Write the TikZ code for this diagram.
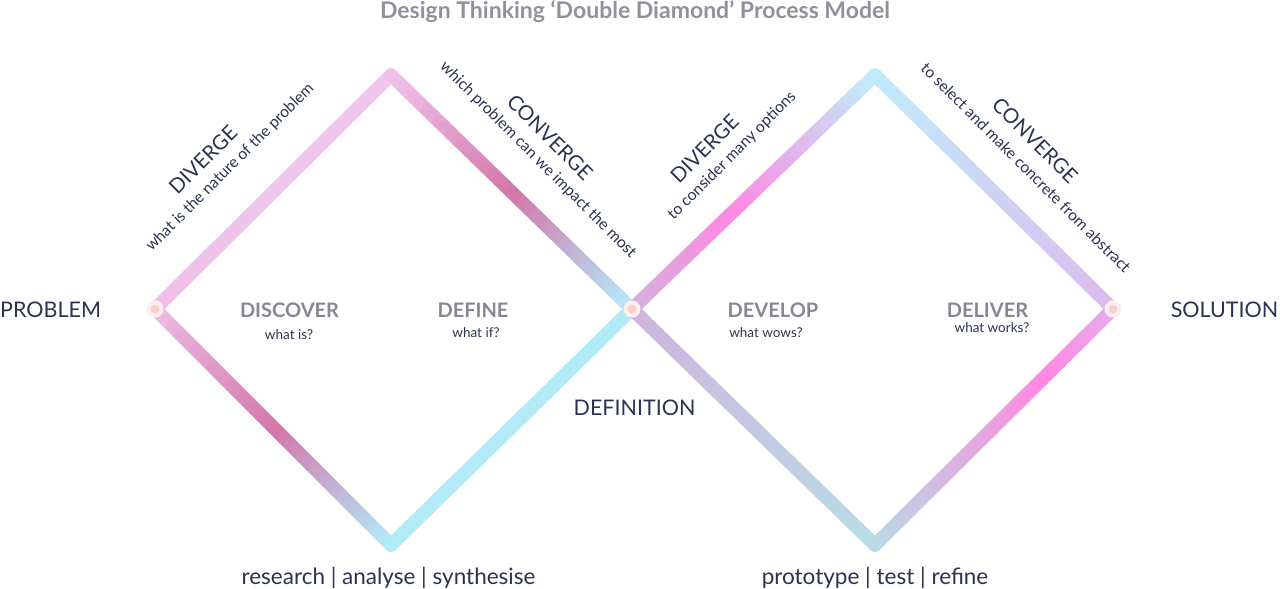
\documentclass[tikz,border=0pt]{standalone}
\usepackage{fontspec}
\setmainfont{Lato}
\usetikzlibrary{calc}

\definecolor{navy}{HTML}{2B3350}
\definecolor{labelgray}{HTML}{85888E}
\definecolor{titlegray}{HTML}{8F9299}
\definecolor{pinkpale}{HTML}{F0C6EC}
\definecolor{pinklite}{HTML}{EEBEE6}
\definecolor{mauve}{HTML}{D476AA}
\definecolor{skyblue}{HTML}{B2EAF8}
\definecolor{lilac}{HTML}{D0B4DE}
\definecolor{hotpink}{HTML}{FF88E0}
\definecolor{icyblue}{HTML}{C0ECFC}
\definecolor{lavender}{HTML}{DCBCEE}
\definecolor{steelblue}{HTML}{B8DCE4}
\definecolor{orchid}{HTML}{E6ACEA}
\definecolor{halo}{HTML}{FEEEEE}
\definecolor{dotcore}{HTML}{FAD0CC}
\colorlet{icylav}{icyblue!50!lavender}
\colorlet{lilsteel}{lilac!50!steelblue}

\tikzset{
  edge/.style={line width=13.5pt, line cap=round},
  hub/.style={circle, fill=dotcore, draw=halo, line width=4pt, minimum size=13pt, inner sep=0pt},
  heading/.style={font=\bfseries\fontsize{23}{25}\selectfont, text=titlegray, inner sep=0pt},
  endlabel/.style={font=\fontsize{21.5}{24}\selectfont, text=navy, inner sep=0pt},
  phase/.style={font=\bfseries\fontsize{20}{22}\selectfont, text=labelgray, inner sep=0pt},
  phasenote/.style={font=\fontsize{13.5}{15}\selectfont, text=navy, inner sep=0pt},
  mode/.style={font=\fontsize{20.5}{22}\selectfont, text=navy, inner sep=0pt},
  modenote/.style={font=\fontsize{15.7}{17}\selectfont, text=navy, inner sep=0pt},
  activity/.style={font=\fontsize{22.5}{24}\selectfont, text=navy, inner sep=0pt}
}

% edge from #1 to #2, colour #3 -> #4 (at position #5) -> #6
\newcommand{\gradedge}[6]{%
  \foreach \i in {0,...,39}{
    \pgfmathsetmacro{\ta}{\i/40}
    \pgfmathsetmacro{\tb}{(\i+1)/40}
    \pgfmathsetmacro{\tm}{(\i+0.5)/40}
    \ifdim\tm pt<#5pt
      \pgfmathsetmacro{\mixp}{100*(1-\tm/#5)}
      \colorlet{segcol}{#3!\mixp!#4}
    \else
      \pgfmathsetmacro{\mixp}{100*(1-(\tm-#5)/(1-#5))}
      \colorlet{segcol}{#4!\mixp!#6}
    \fi
    \draw[edge, segcol] ($(#1)!\ta!(#2)$) -- ($(#1)!\tb!(#2)$);
  }
}

\begin{document}
\begin{tikzpicture}[x=1pt, y=-1pt]
    \useasboundingbox (0,0) rectangle (1280,589);

    % Diamond corners
    \coordinate (start) at (155,309);
    \coordinate (top1) at (391,75);
    \coordinate (bot1) at (391,545);
    \coordinate (middle) at (632,309);
    \coordinate (top2) at (875,75);
    \coordinate (bot2) at (875,545);
    \coordinate (finish) at (1113,309);

    % First diamond
    \gradedge{start}{top1}{pinklite}{pinkpale}{0.5}{pinkpale}
    \gradedge{top1}{middle}{pinkpale}{mauve}{0.52}{skyblue}
    \gradedge{start}{bot1}{pinklite}{mauve}{0.53}{skyblue}
    \gradedge{bot1}{middle}{skyblue}{skyblue}{0.5}{skyblue}

    % Second diamond
    \gradedge{middle}{top2}{lilac}{hotpink}{0.43}{icyblue}
    \gradedge{top2}{finish}{icyblue}{icylav}{0.5}{lavender}
    \gradedge{middle}{bot2}{lilac}{lilsteel}{0.5}{steelblue}
    \gradedge{bot2}{finish}{steelblue}{hotpink}{0.72}{orchid}

    % Hubs
    \node[hub] (hub1) at (start) {};
    \node[hub] (hub2) at (middle) {};
    \node[hub] (hub3) at (finish) {};

    % Title
    \node[heading, anchor=base] (title) at (635,18) {Design Thinking ‘Double Diamond’ Process Model};

    % End labels
    \node[endlabel] (problem) at (50.5,310) {PROBLEM};
    \node[endlabel] (definition) at (634.5,408) {DEFINITION};
    \node[endlabel] (solution) at (1224.5,310) {SOLUTION};

    % Phases
    \node[phase] (discover) at (289.5,310) {DISCOVER};
    \node[phasenote] at (289,335) {what is?};
    \node[phase] (define) at (473,310) {DEFINE};
    \node[phasenote] at (476,333) {what if?};
    \node[phase] (develop) at (773,310) {DEVELOP};
    \node[phasenote] at (766,333) {what wows?};
    \node[phase] (deliver) at (987.5,310) {DELIVER};
    \node[phasenote] at (992,328) {what works?};

    % Diverge / converge
    \node[mode, rotate=45] at (203,160) {DIVERGE};
    \node[modenote, rotate=45] at (230,167.5) {what is the nature of the problem};
    \node[mode, rotate=-45] at (550,137) {CONVERGE};
    \node[modenote, rotate=-45] at (538,160) {which problem can we impact the most};
    \node[mode, rotate=45] at (704.5,148.5) {DIVERGE};
    \node[modenote, rotate=45] at (732,156) {to consider many options};
    \node[mode, rotate=-45] at (1035,140) {CONVERGE};
    \node[modenote, rotate=-45] at (1026,167.5) {to select and make concrete from abstract};

    % Activities
    \node[activity, anchor=base] at (388.5,584) {research | analyse | synthesise};
    \node[activity, anchor=base] at (875,584) {prototype | test | refine};
\end{tikzpicture}
\end{document}
